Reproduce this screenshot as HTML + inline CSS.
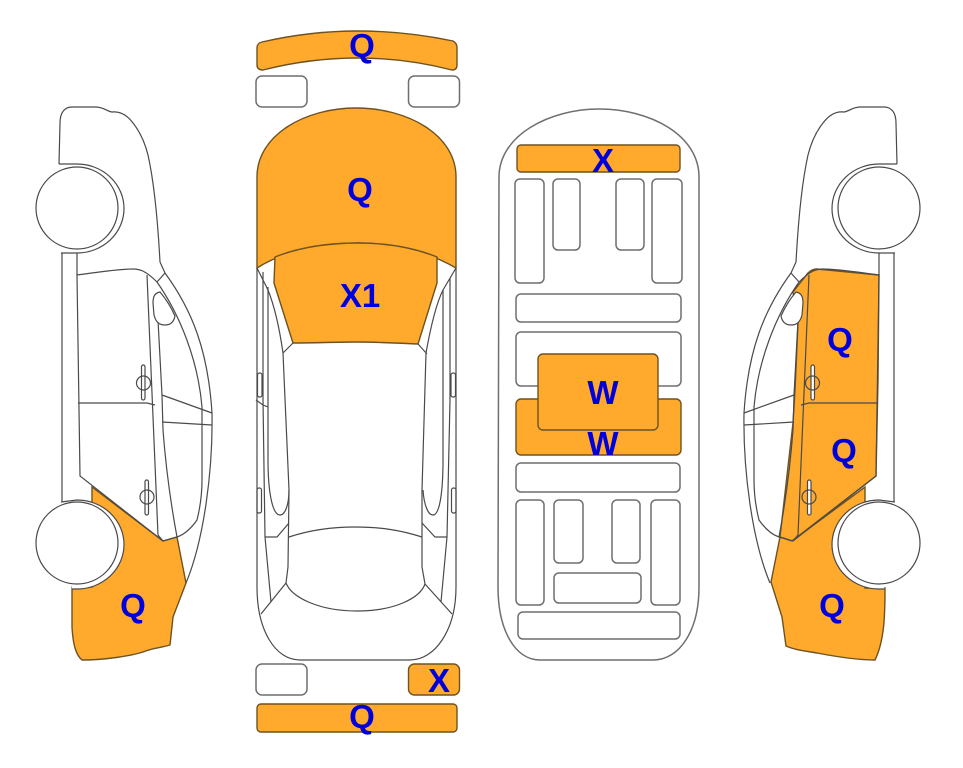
<!DOCTYPE html>
<html>
<head>
<meta charset="utf-8">
<style>
html,body{margin:0;padding:0;background:#fff;width:963px;height:768px;overflow:hidden}
svg{display:block}
text{font-family:"Liberation Sans",sans-serif;font-weight:bold;font-size:33px;fill:#0000dc;text-anchor:middle}
.o{fill:#ffaa2d;stroke:#6e5220;stroke-width:1.4}
.l{fill:none;stroke:#4a4a4a;stroke-width:1.2}
.g{fill:#fff;stroke:#6f6f6f;stroke-width:1.5}
.w{fill:#fff;stroke:#4a4a4a;stroke-width:1.2}
</style>
</head>
<body>
<svg width="963" height="768" viewBox="0 0 963 768" xmlns="http://www.w3.org/2000/svg">
<defs>
<g id="car">
<path class="l" d="M59,164 L60,123 C60,112 65,107 72,107 L95,107 C104,107 106,111 112,112 C120,111 127,115 133,123 C141,133 145,143 148,155 C154,182 158,225 160,262 L165,273 C192,310 208,350 212,413 C213,470 204,540 186,583"/>
<path class="l" d="M165,273 L157,282 C180,315 198,360 202,407 L202,480 C202,495 200,508 197,520 C190,530 183,535 177,537 L163,541 L80,476 L77,275 C100,272 118,269 133,269 C140,269 146,271 157,282"/>
<path class="l" d="M62,253 L62,502 M77,253 L77,275"/>
<path class="l" d="M147,275 L158,535 L163,541 M158,320 L162,395 L163,430 C166,470 172,510 177,537"/>
<path class="w" d="M160,292 C155,293 153,296 153,303 L154,315 C156,323 160,325 165,325 C171,325 174,321 175,316 C171,307 166,299 160,292 Z"/>
<rect class="w" x="141.500" y="365" width="3.500" height="35" rx="1.700"/>
<circle class="l" cx="143.500" cy="383" r="7"/>
<rect class="w" x="145" y="480" width="3.500" height="35" rx="1.700"/>
<circle class="l" cx="147" cy="497" r="7"/>
<path class="l" d="M78,403 L147,403 L155,405 M162,395 L212,413 M162,422 L212,425"/>
<path class="w" d="M59,164 L77,164 A47,44.500 0 0 1 77,253 L61,253"/>
<circle class="w" cx="77" cy="208" r="41"/>
<path class="w" d="M61,502 L77,500 A47,44.500 0 0 1 77,589 L72,589"/>
<circle class="w" cx="77" cy="543" r="41"/>
</g>
</defs>

<!-- left car -->
<path class="o" d="M92,487 L163,541 L177,537 L186,583 L173,617 L170,645 C160,648 152,648 143,652 C130,656 105,660 82,660 C76,655 73,645 72,627 L72,587 L92,587 L92,500 Z"/>
<use href="#car"/>
<text x="133" y="617">Q</text>

<!-- right car fills -->
<path class="o" d="M879,275 L817,269 C813,269 810,271 808,273 L793,292 L798,323 L795,390 L793,423 L780,537 L792,541 L876,476 L878,380 Z"/>
<path class="o" d="M865,487 L865,500 L865,588 L885,588 C885,610 885,640 875,660 C860,660 843,658 817,653 C805,651 795,650 786,646 L782,617 L771,582 L780,537 L792,541 Z"/>
<use href="#car" transform="matrix(-1 0 0 1 956 0)"/>
<text x="840" y="351">Q</text>
<text x="844" y="462">Q</text>
<text x="832" y="617">Q</text>

<!-- top view -->
<path class="o" d="M257,48 Q257,43 262,42 Q310,31 358,31 Q405,31 453,41 Q457,43 457,48 L457,65 Q457,70 452,70 Q405,58 358,58 Q310,58 263,70 Q257,70 257,65 Z"/>
<rect class="g" x="256" y="76" width="51" height="31" rx="6"/>
<rect class="g" x="408.500" y="76" width="51" height="31" rx="6"/>
<path class="o" d="M257,268 L257,177 C257,135 305,108 356,108 C408,108 456,135 456,177 L456,268 C425,250 390,243 358,243 C325,243 285,250 257,268 Z"/>
<path class="o" d="M275,257 C300,247 330,243 358,243 C385,243 412,247 437,257 L437,283 L418,344 C395,343 375,342 357,342 C335,342 315,343 293,343 L274,283 Z"/>
<path class="l" d="M257,268 L257,587 C257,630 275,660 300,660 L410,660 C435,660 456,630 456,587 L456,268"/>
<path class="l" d="M257,268 L268,290 C274,305 279,325 283,353 L289,490 L288,567 L286,583 M283,353 L293,343"/>
<path class="l" d="M456,268 L443,290 C437,302 431,325 426,353 L422,490 L422,567 L425,584 M427,354 L418,344"/>
<path class="l" d="M263,272 L263,400 L265,537 L271,602 M268,287 L268,460 C268,490 272,515 280,515 C285,515 289,505 289,490"/>
<path class="l" d="M450,278 L450,400 L447,537 L441,602 M443,290 L443,460 C443,490 440,515 433,515 C428,515 424,505 423,490"/>
<path class="l" d="M256,400 L263,405 L268,407 M265,537 L277,537 L289,523 M447,537 L435,537 L422,523"/>
<path class="l" d="M289,537 C310,530 330,527 355,527 C380,527 400,530 422,537"/>
<path class="l" d="M286,583 C292,598 320,611 357,611 C395,611 420,598 425,584 M286,583 L261,614 M425,584 L452,614"/>
<rect class="l" x="257.500" y="373" width="4.500" height="24" rx="2"/>
<rect class="l" x="257" y="488" width="4.500" height="25" rx="2"/>
<rect class="l" x="451" y="373" width="4.500" height="24" rx="2"/>
<rect class="l" x="451.500" y="488" width="4.500" height="25" rx="2"/>
<rect class="g" x="256" y="664" width="51" height="31" rx="6"/>
<rect class="o" x="408.500" y="664" width="51" height="31" rx="6"/>
<rect class="o" x="257" y="704" width="200" height="28" rx="4"/>
<text x="362" y="57">Q</text>
<text x="360" y="201">Q</text>
<text x="360" y="307">X1</text>
<text x="439" y="692">X</text>
<text x="362" y="728">Q</text>

<!-- floor view -->
<path class="g" d="M499,177 C499,135 550,109 599,109 C650,109 699,135 699,177 L699,587 C699,630 680,660 653,660 L540,660 C515,660 498,630 498,587 Z"/>
<rect class="o" x="517" y="145" width="163" height="27" rx="4"/>
<rect class="g" x="515" y="179" width="29" height="104" rx="5"/>
<rect class="g" x="553" y="179" width="27" height="71" rx="5"/>
<rect class="g" x="616" y="179" width="28" height="71" rx="5"/>
<rect class="g" x="652" y="179" width="30" height="104" rx="5"/>
<rect class="g" x="516" y="294" width="165" height="28" rx="5"/>
<rect class="g" x="516" y="332" width="165" height="54" rx="5"/>
<rect class="o" x="516" y="399" width="165" height="56" rx="5"/>
<text x="603" y="455">W</text>
<rect class="o" x="538" y="354" width="120" height="76" rx="5"/>
<rect class="g" x="516" y="463" width="164" height="29" rx="5"/>
<rect class="g" x="516" y="500" width="28" height="105" rx="5"/>
<rect class="g" x="554" y="500" width="29" height="63" rx="5"/>
<rect class="g" x="612" y="500" width="28" height="63" rx="5"/>
<rect class="g" x="651" y="500" width="29" height="105" rx="5"/>
<rect class="g" x="554" y="573" width="87" height="30" rx="5"/>
<rect class="g" x="518" y="612" width="162" height="27" rx="5"/>
<text x="603" y="172">X</text>
<text x="603" y="404">W</text>
</svg>
</body>
</html>
